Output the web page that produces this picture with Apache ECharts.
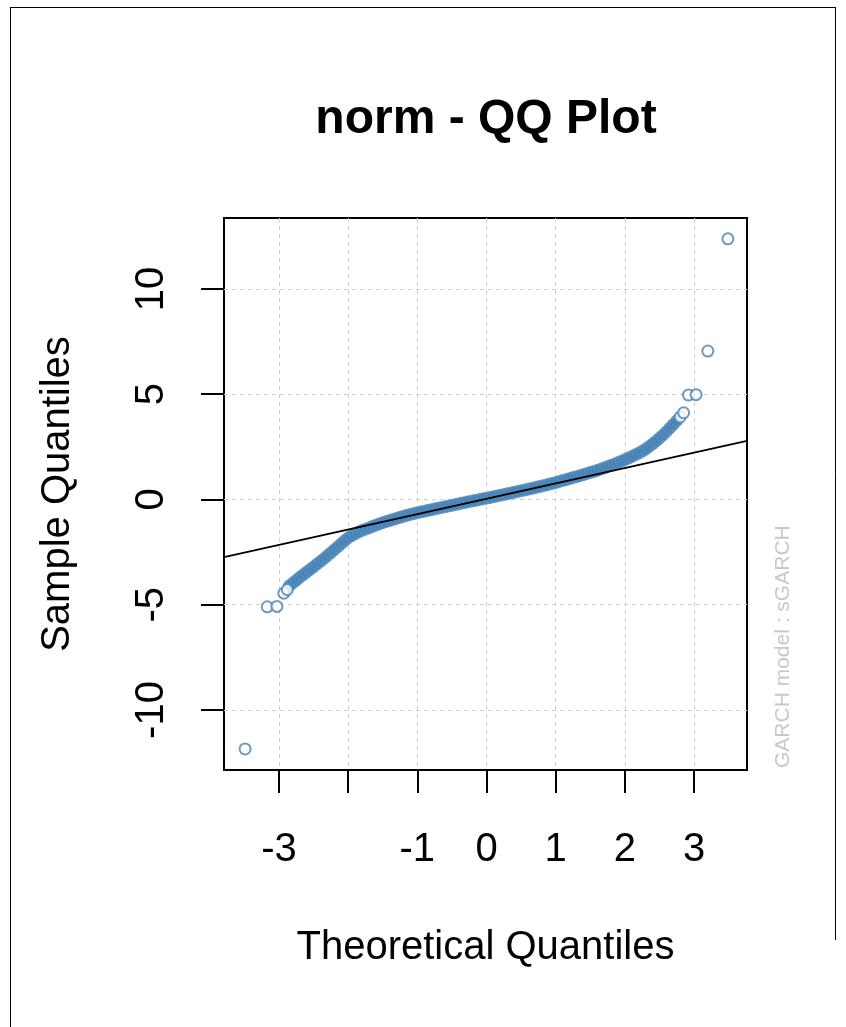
<!DOCTYPE html>
<html>
<head>
<meta charset="utf-8">
<title>norm - QQ Plot</title>
<script src="https://cdn.jsdelivr.net/npm/echarts@6/dist/echarts.min.js"></script>
<style>
  html, body { margin: 0; padding: 0; background: #fff; }
  #chart { width: 846px; height: 1027px; }
</style>
</head>
<body>
<div id="chart"></div>
<script>
// Dense middle of the QQ cloud: theoretical vs sample quantiles
const bodyTheo = [
  -2.85, -2.80, -2.75, -2.70, -2.65, -2.60, -2.55, -2.50, -2.45, -2.40,
  -2.35, -2.30, -2.25, -2.20, -2.15, -2.10, -2.05, -2.00, -1.95, -1.90,
  -1.85, -1.80, -1.75, -1.70, -1.65, -1.60, -1.55, -1.50, -1.45, -1.40,
  -1.35, -1.30, -1.25, -1.20, -1.15, -1.10, -1.05, -1.00, -0.95, -0.90,
  -0.85, -0.80, -0.75, -0.70, -0.65, -0.60, -0.55, -0.50, -0.45, -0.40,
  -0.35, -0.30, -0.25, -0.20, -0.15, -0.10, -0.05, 0.00, 0.05, 0.10,
  0.15, 0.20, 0.25, 0.30, 0.35, 0.40, 0.45, 0.50, 0.55, 0.60,
  0.65, 0.70, 0.75, 0.80, 0.85, 0.90, 0.95, 1.00, 1.05, 1.10,
  1.15, 1.20, 1.25, 1.30, 1.35, 1.40, 1.45, 1.50, 1.55, 1.60,
  1.65, 1.70, 1.75, 1.80, 1.85, 1.90, 1.95, 2.00, 2.05, 2.10,
  2.15, 2.20, 2.25, 2.30, 2.35, 2.40, 2.45, 2.50, 2.55, 2.60,
  2.65, 2.70, 2.75
];
const bodySample = [
  -4.10, -3.97, -3.84, -3.70, -3.58, -3.45, -3.33, -3.20, -3.07, -2.94,
  -2.81, -2.67, -2.53, -2.39, -2.25, -2.10, -1.96, -1.82, -1.72, -1.63,
  -1.55, -1.47, -1.41, -1.35, -1.28, -1.22, -1.16, -1.10, -1.05, -1.00,
  -0.95, -0.90, -0.85, -0.80, -0.75, -0.71, -0.67, -0.63, -0.59, -0.56,
  -0.52, -0.49, -0.45, -0.42, -0.38, -0.35, -0.31, -0.28, -0.24, -0.21,
  -0.17, -0.14, -0.10, -0.07, -0.04, 0.00, 0.03, 0.06, 0.09, 0.13,
  0.16, 0.20, 0.23, 0.27, 0.30, 0.34, 0.38, 0.41, 0.45, 0.49,
  0.52, 0.56, 0.60, 0.64, 0.68, 0.72, 0.76, 0.80, 0.85, 0.90,
  0.94, 0.99, 1.04, 1.08, 1.13, 1.18, 1.23, 1.28, 1.33, 1.38,
  1.44, 1.50, 1.56, 1.62, 1.68, 1.75, 1.82, 1.89, 1.96, 2.04,
  2.12, 2.20, 2.29, 2.39, 2.51, 2.63, 2.77, 2.91, 3.06, 3.22,
  3.39, 3.56, 3.74
];

// Sparse tail observations, shown as open circles
const tailTheo   = [-3.49, -3.17, -3.03, -2.93, -2.88, 2.80, 2.85, 2.92, 3.03, 3.20, 3.49];
const tailSample = [-11.85, -5.10, -5.08, -4.45, -4.28, 3.92, 4.12, 4.96, 4.98, 7.05, 12.38];

// Reference line (qqline) end points at the plot edges
const refTheo   = [-3.795, 3.766];
const refSample = [-2.74, 2.78];

// Axis ticks and labels
const xTicks  = [-3, -2, -1, 0, 1, 2, 3];
const xLabels = [-3, -1, 0, 1, 2, 3];
const yTicks  = [-10, -5, 0, 5, 10];

const FONT = "'Liberation Sans', Arial, sans-serif";
const POINT = '#4682B4';

const zip = (a, b) => a.map((v, i) => [v, b[i]]);

const chart = echarts.init(document.getElementById('chart'), null, { renderer: 'canvas' });

chart.setOption({
  animation: false,
  backgroundColor: '#fff',
  grid: {
    left: 224, top: 218, width: 523, height: 552,
    show: true, borderColor: '#000', borderWidth: 2, backgroundColor: 'transparent'
  },
  xAxis: {
    type: 'value',
    min: -3.795, max: 3.766,
    name: 'Theoretical Quantiles',
    nameLocation: 'middle',
    nameGap: 158,
    nameTextStyle: { fontFamily: FONT, fontSize: 40, color: '#000' },
    axisLine: { show: false, onZero: false },
    axisTick: { show: true, inside: false, length: 23, customValues: xTicks,
                lineStyle: { color: '#000', width: 2 } },
    axisLabel: { show: true, customValues: xLabels, margin: 60,
                 fontFamily: FONT, fontSize: 40, color: '#000' },
    splitLine: { show: true, lineStyle: { color: '#cfcfcf', width: 1, type: [4, 4] } }
  },
  yAxis: {
    type: 'value',
    min: -12.85, max: 13.37,
    name: 'Sample Quantiles',
    nameLocation: 'middle',
    nameGap: 146,
    nameTextStyle: { fontFamily: FONT, fontSize: 40, color: '#000' },
    axisLine: { show: false, onZero: false },
    axisTick: { show: true, inside: false, length: 23, customValues: yTicks,
                lineStyle: { color: '#000', width: 2 } },
    axisLabel: { show: true, customValues: yTicks, rotate: 90, margin: 52,
                 fontFamily: FONT, fontSize: 40, color: '#000' },
    splitLine: { show: true, lineStyle: { color: '#cfcfcf', width: 1, type: [4, 4] } }
  },
  series: [
    {
      name: 'body',
      type: 'scatter',
      data: zip(bodyTheo, bodySample),
      symbol: 'circle',
      symbolSize: 12,
      itemStyle: { color: POINT, borderColor: '#5b93c2', borderWidth: 1 },
      z: 2
    },
    {
      name: 'tails',
      type: 'scatter',
      data: zip(tailTheo, tailSample),
      symbol: 'emptyCircle',
      symbolSize: 11,
      itemStyle: { color: POINT, borderColor: POINT, borderWidth: 1.6 },
      z: 2
    },
    {
      name: 'qqline',
      type: 'line',
      data: zip(refTheo, refSample),
      symbol: 'none',
      lineStyle: { color: '#000', width: 1.8 },
      z: 3
    }
  ],
  graphic: [
    {
      type: 'text',
      x: 486, y: 120,
      style: { text: 'norm - QQ Plot', fontFamily: FONT, fontSize: 48, fontWeight: 'bold',
               fill: '#000', align: 'center', verticalAlign: 'middle' }
    },
    {
      type: 'text',
      x: 783, y: 768,
      rotation: Math.PI / 2,
      style: { text: 'GARCH model : sGARCH', fontFamily: FONT, fontSize: 21,
               fill: '#c8c8c8', align: 'left', verticalAlign: 'middle' }
    },
    { type: 'line', shape: { x1: 10.5, y1: 7, x2: 10.5, y2: 1027 }, style: { stroke: '#000', lineWidth: 1 } },
    { type: 'line', shape: { x1: 10, y1: 7.5, x2: 836, y2: 7.5 }, style: { stroke: '#000', lineWidth: 1 } },
    { type: 'line', shape: { x1: 835.5, y1: 7, x2: 835.5, y2: 940 }, style: { stroke: '#000', lineWidth: 1 } }
  ]
});
</script>
</body>
</html>
